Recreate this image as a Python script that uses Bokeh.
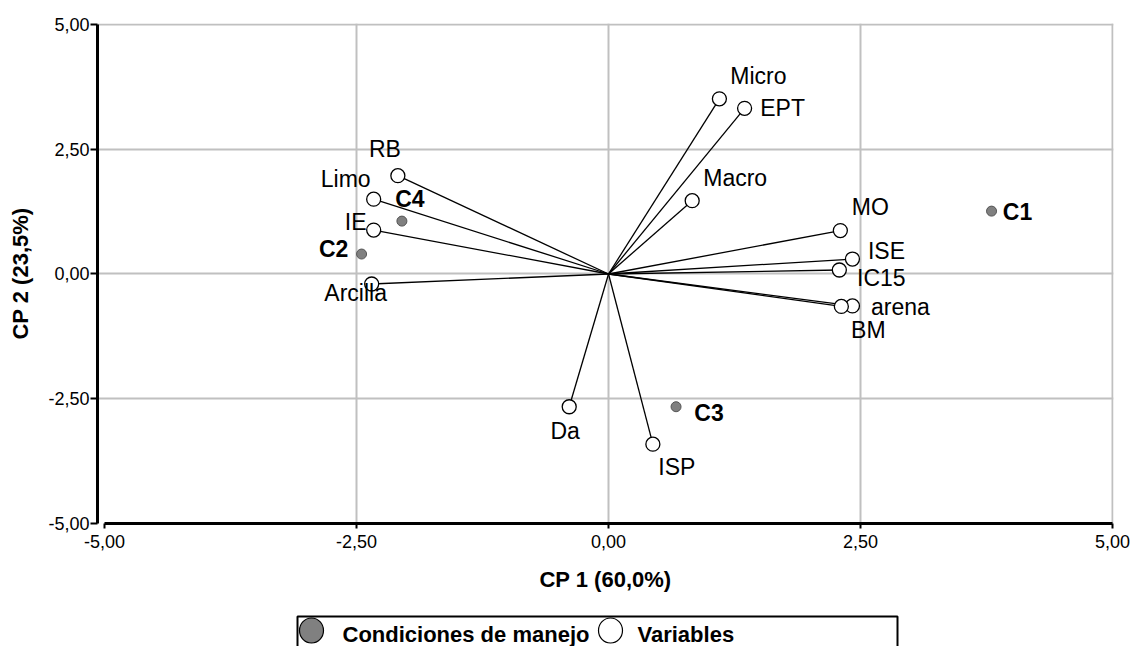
from bokeh.plotting import figure
from bokeh.models import ColumnDataSource, FixedTicker, Range1d
from bokeh.layouts import column
from bokeh.embed import file_html
from bokeh.resources import INLINE
from bokeh.core.properties import value

# ---------------- data ----------------
var_names = ["Micro", "EPT", "Macro", "MO", "ISE", "IC15", "arena", "BM",
             "Da", "ISP", "RB", "Limo", "IE", "Arcilla"]
var_x = [1.10, 1.35, 0.83, 2.30, 2.42, 2.29, 2.42, 2.31,
         -0.39, 0.44, -2.09, -2.33, -2.33, -2.35]
var_y = [3.51, 3.32, 1.47, 0.87, 0.30, 0.08, -0.64, -0.65,
         -2.66, -3.41, 1.97, 1.50, 0.88, -0.20]

cond_names = ["C1", "C2", "C3", "C4"]
cond_x = [3.80, -2.45, 0.67, -2.05]
cond_y = [1.26, 0.40, -2.66, 1.06]

tick_values = [-5, -2.5, 0, 2.5, 5]
tick_labels = ["-5,00", "-2,50", "0,00", "2,50", "5,00"]
x_title = "CP 1 (60,0%)"
y_title = "CP 2 (23,5%)"
legend_labels = ["Condiciones de manejo", "Variables"]

# ---------------- layout / style ----------------
FONT_NAME = "Liberation Sans"
FONT = value(FONT_NAME)
W = 1133
BORDER_L, BORDER_R = 97, 20
var_label_dx = [39, 38, 43, 30, 34, 42, 48, 27, -4, 24, -13, -28, -18, -16]
var_label_dy = [-23, 0, -23, -24, -8, 8, 1, 24, 24, 23, -27, -20, -8, 9]
cond_label_dx = [26, -28, 33, 8]
cond_label_dy = [1, -5, 6, -22]

p = figure(width=W, height=600,
           x_range=Range1d(-5.07, 5.01), y_range=Range1d(-5, 5.02),
           output_backend="svg", toolbar_location=None,
           min_border_left=BORDER_L, min_border_right=BORDER_R,
           min_border_top=23, min_border_bottom=77)
p.outline_line_color = None
p.background_fill_color = "white"
p.border_fill_color = "white"

grid_ticks = [t for t in tick_values if t != -5]
p.xgrid.ticker = FixedTicker(ticks=grid_ticks)
p.ygrid.ticker = FixedTicker(ticks=grid_ticks)
for g in (p.xgrid, p.ygrid):
    g.grid_line_color = "#c0c0c0"
    g.grid_line_width = 2

overrides = dict(zip(tick_values, tick_labels))
for ax in (p.xaxis[0], p.yaxis[0]):
    ax.ticker = FixedTicker(ticks=tick_values)
    ax.major_label_overrides = overrides
    ax.bounds = (-5, 5)
    ax.axis_line_width = 3
    ax.axis_line_color = "black"
    ax.major_tick_line_color = "black"
    ax.major_tick_line_width = 2
    ax.major_tick_in = 0
    ax.minor_tick_line_color = None
    ax.major_label_text_font = FONT_NAME
    ax.major_label_text_font_size = "18px"
    ax.major_label_text_color = "black"
    ax.axis_label_text_font = FONT_NAME
    ax.axis_label_text_font_style = "bold"
    ax.axis_label_text_font_size = "22px"
    ax.axis_label_text_color = "black"

p.xaxis.axis_label = x_title
p.yaxis.axis_label = y_title
p.xaxis.major_tick_out = 5
p.xaxis.major_label_standoff = 6
p.xaxis.axis_label_standoff = 16
p.yaxis.major_tick_out = 7
p.yaxis.major_label_standoff = 1
p.yaxis.axis_label_standoff = 12

vsrc = ColumnDataSource(dict(x=var_x, y=var_y, name=var_names,
                             dx=var_label_dx, dy=var_label_dy))
csrc = ColumnDataSource(dict(x=cond_x, y=cond_y, name=cond_names,
                             dx=cond_label_dx, dy=cond_label_dy))

p.segment(x0=0, y0=0, x1="x", y1="y", source=vsrc,
          line_color="black", line_width=1.3)
p.scatter("x", "y", source=vsrc, size=14, fill_color="white",
          line_color="black", line_width=1.3)
p.scatter("x", "y", source=csrc, size=10, fill_color="#808080",
          line_color="#555555", line_width=1)

p.text("x", "y", text="name", source=vsrc, x_offset="dx", y_offset="dy",
       text_align="center", text_baseline="middle",
       text_font=FONT, text_font_size="23px", text_color="black")
p.text("x", "y", text="name", source=csrc, x_offset="dx", y_offset="dy",
       text_align="center", text_baseline="middle",
       text_font=FONT, text_font_size="23px", text_font_style="bold",
       text_color="black")

# ---------------- legend strip (coordinates = page pixels) ----------------
lp = figure(width=W, height=46,
            x_range=Range1d(BORDER_L, W - BORDER_R), y_range=Range1d(646, 600),
            output_backend="svg", toolbar_location=None,
            min_border_left=BORDER_L, min_border_right=BORDER_R,
            min_border_top=0, min_border_bottom=0,
            x_axis_location=None, y_axis_location=None)
lp.outline_line_color = None
lp.grid.visible = False
lp.background_fill_color = "white"
lp.line(x=[297, 297, 897, 897], y=[660, 616, 616, 660], line_color="black", line_width=2)
lp.ellipse(x=[311], y=[630], width=24, height=25, width_units="screen",
           height_units="screen", fill_color="#808080", line_color="black", line_width=1.2)
lp.ellipse(x=[610], y=[630], width=24, height=25, width_units="screen",
           height_units="screen", fill_color="white", line_color="black", line_width=1.2)
lp.text(x=[342, 637], y=[634, 634], text=legend_labels, text_font=FONT,
        text_font_style="bold", text_font_size="22px", text_baseline="middle",
        text_color="black")

layout = column(p, lp, spacing=0)
open("out.html", "w").write(file_html(layout, INLINE))
